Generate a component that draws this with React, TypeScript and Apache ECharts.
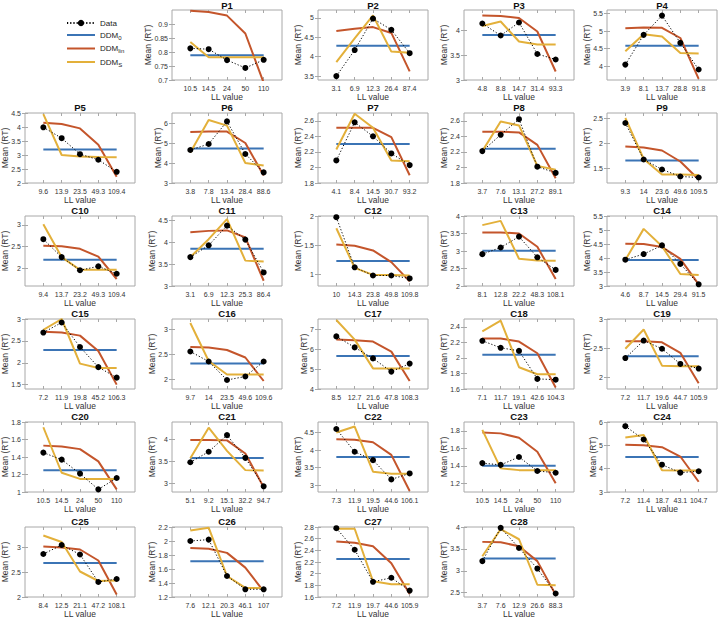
import React, { useEffect, useRef } from 'react';
import * as echarts from 'echarts';

// ---------------- data ----------------
const panelNames = [
  'P1', 'P2', 'P3', 'P4', 'P5', 'P6', 'P7', 'P8', 'P9',
  'C10', 'C11', 'C12', 'C13', 'C14', 'C15', 'C16', 'C17', 'C18', 'C19',
  'C20', 'C21', 'C22', 'C23', 'C24', 'C25', 'C26', 'C27', 'C28',
];

const xLabels = [
  ['10.5', '14.5', '24', '50', '110'],
  ['3.1', '6.9', '12.3', '26.4', '87.4'],
  ['4.8', '8.8', '14.7', '31.4', '93.3'],
  ['3.9', '8.1', '13.7', '28.8', '91.8'],
  ['9.6', '13.9', '23.5', '49.3', '109.4'],
  ['3.8', '7.8', '13.4', '28.4', '88.6'],
  ['4.1', '8.4', '14.5', '30.7', '93.2'],
  ['3.7', '7.6', '13.1', '27.2', '89.1'],
  ['9.3', '14', '23.6', '49.6', '109.5'],
  ['9.4', '13.7', '23.2', '49.3', '109.4'],
  ['3.1', '6.9', '12.3', '25.3', '86.4'],
  ['10', '14.3', '23.8', '49.8', '109.8'],
  ['8.1', '12.8', '22.2', '48.3', '108.1'],
  ['4.6', '8.7', '14.5', '29.4', '91.5'],
  ['7.2', '11.9', '19.8', '45.2', '106.3'],
  ['9.7', '14', '23.5', '49.6', '109.6'],
  ['8.5', '12.7', '21.6', '47.8', '108.3'],
  ['7.1', '11.7', '19.1', '42.6', '104.3'],
  ['7.2', '11.7', '19.6', '44.7', '105.9'],
  ['10.5', '14.5', '24', '50', '110'],
  ['5.1', '9.2', '15.1', '32.2', '94.7'],
  ['7.3', '11.9', '19.5', '44.6', '106.1'],
  ['10.5', '14.5', '24', '50', '110'],
  ['7.2', '11.4', '18.7', '43.1', '104.7'],
  ['8.4', '12.5', '21.1', '47.2', '108.1'],
  ['7.6', '12.1', '20.3', '46.1', '107'],
  ['7.2', '11.9', '19.7', '44.6', '105.9'],
  ['3.7', '7.6', '12.9', '26.6', '88.3'],
];

const yMins = [0.7, 3.4, 3, 3.6, 2, 3, 1.8, 1.8, 1.2, 1.6, 3, 0.8, 2, 3, 1.4, 1.8, 4, 1.6, 1.8, 1, 2.8, 2.8, 1.1, 3, 2, 1.2, 1.6, 2.4];
const yMaxs = [0.95, 5.2, 4.4, 5.6, 4.5, 6.5, 2.7, 2.7, 2.6, 3.2, 4.6, 2, 4, 5.5, 3, 3.2, 7.5, 2.5, 3, 1.8, 4.4, 4.8, 1.9, 6, 3.4, 2.2, 2.8, 4];

const yTicks = [
  [0.7, 0.75, 0.8, 0.85, 0.9],
  [3.5, 4, 4.5, 5],
  [3, 3.5, 4],
  [4, 4.5, 5, 5.5],
  [2, 2.5, 3, 3.5, 4, 4.5],
  [3, 4, 5, 6],
  [1.8, 2, 2.2, 2.4, 2.6],
  [1.8, 2, 2.2, 2.4, 2.6],
  [1.5, 2, 2.5],
  [2, 2.5, 3],
  [3, 3.5, 4, 4.5],
  [1, 1.5, 2],
  [2, 2.5, 3, 3.5, 4],
  [3, 3.5, 4, 4.5, 5, 5.5],
  [1.5, 2, 2.5, 3],
  [2, 2.5, 3],
  [4, 5, 6, 7],
  [1.6, 1.8, 2, 2.2, 2.4],
  [2, 2.5, 3],
  [1, 1.2, 1.4, 1.6, 1.8],
  [3, 3.5, 4],
  [3, 3.5, 4, 4.5],
  [1.2, 1.4, 1.6, 1.8],
  [3, 4, 5, 6],
  [2, 2.5, 3],
  [1.2, 1.4, 1.6, 1.8, 2, 2.2],
  [1.6, 1.8, 2, 2.2, 2.4, 2.6, 2.8],
  [2.5, 3, 3.5, 4],
];

const dataVals = [
  [0.813, 0.81, 0.771, 0.743, 0.772],
  [3.5, 4.17, 4.98, 4.69, 4.09],
  [4.13, 3.89, 4.15, 3.52, 3.41],
  [4.04, 4.89, 5.44, 4.66, 3.9],
  [3.99, 3.6, 3.03, 2.83, 2.4],
  [4.65, 4.95, 6.08, 4.45, 3.53],
  [2.09, 2.58, 2.4, 2.18, 2.03],
  [2.21, 2.42, 2.62, 2.01, 1.93],
  [2.4, 1.67, 1.47, 1.33, 1.31],
  [2.67, 2.26, 1.96, 2.05, 1.88],
  [3.66, 3.93, 4.38, 4.06, 3.31],
  [1.98, 1.12, 0.98, 0.98, 0.93],
  [2.91, 3.1, 3.41, 2.82, 2.46],
  [3.94, 4.14, 4.45, 3.79, 3.06],
  [2.69, 2.92, 2.36, 1.9, 1.66],
  [2.55, 2.35, 1.98, 2.05, 2.35],
  [6.63, 6.08, 5.53, 4.87, 5.27],
  [2.22, 2.13, 2.09, 1.73, 1.72],
  [2.33, 2.63, 2.49, 2.23, 2.15],
  [1.45, 1.37, 1.21, 1.03, 1.16],
  [3.48, 3.72, 4.1, 3.58, 2.93],
  [4.6, 3.95, 3.71, 3.16, 3.33],
  [1.43, 1.41, 1.5, 1.34, 1.32],
  [5.82, 5.25, 4.17, 3.83, 3.89],
  [2.86, 3.04, 2.85, 2.3, 2.36],
  [2.0, 2.02, 1.5, 1.31, 1.31],
  [2.78, 2.41, 1.86, 1.93, 1.71],
  [3.22, 3.98, 3.52, 3.05, 2.48],
];

const ddm0Vals = [0.788, 4.28, 3.9, 4.58, 3.2, 4.72, 2.3, 2.24, 1.65, 2.2, 3.85, 1.23, 3.01, 3.93, 2.29, 2.31, 5.65, 2.04, 2.36, 1.25, 3.58, 3.8, 1.4, 4.5, 2.68, 1.71, 2.25, 3.28];

const ddmLinVals = [
  [0.947, 0.943, 0.93, 0.866, 0.69],
  [4.66, 4.72, 4.76, 4.61, 3.62],
  [4.29, 4.28, 4.24, 3.97, 3.17],
  [5.08, 5.1, 5.09, 4.8, 3.63],
  [4.15, 4.11, 3.95, 3.37, 2.22],
  [5.55, 5.58, 5.57, 5.0, 3.37],
  [2.51, 2.51, 2.51, 2.39, 1.9],
  [2.46, 2.46, 2.45, 2.29, 1.86],
  [1.93, 1.91, 1.85, 1.63, 1.27],
  [2.52, 2.51, 2.45, 2.27, 1.76],
  [4.23, 4.26, 4.27, 4.11, 3.12],
  [1.51, 1.49, 1.41, 1.21, 0.88],
  [3.53, 3.53, 3.5, 3.12, 2.2],
  [4.51, 4.5, 4.39, 3.97, 3.06],
  [2.71, 2.69, 2.62, 2.27, 1.5],
  [2.64, 2.63, 2.58, 2.43, 1.96],
  [6.47, 6.44, 6.37, 5.87, 4.4],
  [2.25, 2.25, 2.21, 2.06, 1.62],
  [2.62, 2.62, 2.6, 2.42, 1.9],
  [1.53, 1.52, 1.49, 1.35, 1.03],
  [3.99, 3.99, 3.98, 3.68, 2.91],
  [4.31, 4.29, 4.22, 3.86, 2.83],
  [1.78, 1.77, 1.72, 1.56, 1.2],
  [5.02, 5.0, 4.92, 4.52, 3.44],
  [3.01, 2.99, 2.95, 2.73, 2.05],
  [1.9, 1.89, 1.83, 1.62, 1.28],
  [2.55, 2.53, 2.47, 2.18, 1.65],
  [3.66, 3.65, 3.56, 3.22, 2.45],
];

const ddmSVals = [
  [0.836, 0.781, 0.781, 0.781, 0.781],
  [3.86, 4.47, 5.06, 4.13, 4.1],
  [4.08, 4.17, 3.77, 3.71, 3.71],
  [4.42, 4.91, 4.84, 4.37, 4.36],
  [4.46, 3.0, 2.95, 2.93, 2.92],
  [4.53, 6.15, 5.87, 4.0, 3.88],
  [2.23, 2.69, 2.51, 2.09, 2.08],
  [2.21, 2.59, 2.54, 2.02, 1.97],
  [2.5, 1.68, 1.37, 1.37, 1.36],
  [3.01, 2.26, 1.97, 1.97, 1.97],
  [3.66, 4.07, 4.53, 3.58, 3.56],
  [1.79, 1.11, 0.99, 0.99, 0.98],
  [3.74, 3.86, 2.78, 2.73, 2.72],
  [3.93, 5.04, 4.42, 3.43, 3.39],
  [2.75, 3.0, 1.98, 1.88, 1.88],
  [3.12, 2.36, 2.09, 2.09, 2.09],
  [7.45, 6.47, 5.03, 5.03, 5.03],
  [2.34, 2.48, 1.88, 1.79, 1.79],
  [2.49, 2.82, 2.2, 2.19, 2.19],
  [1.74, 1.22, 1.15, 1.15, 1.15],
  [3.57, 4.27, 3.74, 3.3, 3.29],
  [4.5, 4.67, 3.38, 3.32, 3.32],
  [1.81, 1.37, 1.35, 1.35, 1.35],
  [5.34, 5.44, 3.93, 3.92, 3.92],
  [3.23, 3.1, 2.51, 2.32, 2.33],
  [2.15, 2.19, 1.5, 1.33, 1.33],
  [2.77, 2.77, 1.87, 1.82, 1.82],
  [3.33, 3.95, 3.72, 2.68, 2.67],
];

const seriesNames = ['Data', 'DDM0', 'DDMlin', 'DDMS'];

// ---------------- layout / style ----------------
const COL_LEFT = [25, 172, 318, 464, 607];
const ROW_TOP = [10, 113, 216, 319, 422, 527];
const W = 110;
const H = 70;
const FONT = '"Liberation Sans", Arial, Helvetica, sans-serif';
const TICK_FS = 7;
const NAME_FS = 8.5;
const BLUE = '#3b74b5';
const RED = '#c4552b';
const YELLOW = '#e3b03a';
const BOX = '#a8a8a8';
const TXT = '#333333';
const LINE_ICON = 'path://M0,0L28,0L28,2L0,2Z';
const XPOS = [1, 2, 3, 4, 5];

function labelWidth(s: string, fs: number) {
  let w = 0;
  for (const ch of s) w += ch === '.' ? 0.278 : 0.556;
  return w * fs;
}

function buildOption() {
  const grid: any[] = [];
  const xAxis: any[] = [];
  const yAxis: any[] = [];
  const series: any[] = [];
  const title: any[] = [];

  panelNames.forEach((name, i) => {
    const slot = i + 1;
    const row = Math.floor(slot / 5);
    const col = slot % 5;
    const left = COL_LEFT[col];
    const top = ROW_TOP[row];
    const labels = xLabels[i];
    const ticks = yTicks[i];
    const maxLabW = Math.max(...ticks.map((t) => labelWidth(String(t), TICK_FS)));

    grid.push({
      left, top, width: W, height: H,
      show: true, borderColor: BOX, borderWidth: 1, backgroundColor: '#fff',
      containLabel: false, outerBoundsMode: 'none',
    });

    title.push({
      text: name, left: left + W / 2, top: Math.max(0, top - 10.5), textAlign: 'center', padding: 0,
      textStyle: { fontSize: 9.5, fontWeight: 'bold', color: '#111', fontFamily: FONT, lineHeight: 10 },
    });

    const tickStyle = { lineStyle: { color: BOX, width: 1 } };
    xAxis.push({
      type: 'value', gridIndex: i, min: 0, max: 6, position: 'bottom',
      axisLine: { show: false },
      axisTick: { show: true, inside: true, length: 3, customValues: XPOS, ...tickStyle },
      axisLabel: {
        customValues: XPOS, margin: 5, fontSize: TICK_FS, color: TXT, fontFamily: FONT,
        hideOverlap: false, showMinLabel: true, showMaxLabel: true,
        formatter: (v: number) => labels[Math.round(v) - 1] || '',
      },
      splitLine: { show: false },
      name: 'LL value', nameLocation: 'middle', nameGap: 12.5, nameMoveOverlap: false,
      nameTextStyle: { fontSize: NAME_FS, color: TXT, fontFamily: FONT, lineHeight: 9 },
    });
    xAxis.push({
      type: 'value', gridIndex: i, min: 0, max: 6, position: 'top',
      axisLine: { show: false },
      axisTick: { show: true, inside: true, length: 3, customValues: XPOS, ...tickStyle },
      axisLabel: { show: false },
      splitLine: { show: false },
    });
    yAxis.push({
      type: 'value', gridIndex: i, min: yMins[i], max: yMaxs[i], position: 'left',
      axisLine: { show: false },
      axisTick: { show: true, inside: true, length: 3, customValues: ticks, ...tickStyle },
      axisLabel: {
        customValues: ticks, margin: 4, fontSize: TICK_FS, color: TXT, fontFamily: FONT,
        hideOverlap: false,
      },
      splitLine: { show: false },
      name: 'Mean (RT)', nameLocation: 'middle', nameGap: 4 + maxLabW + 2, nameRotate: 90,
      nameMoveOverlap: false,
      nameTextStyle: { fontSize: NAME_FS, color: TXT, fontFamily: FONT, lineHeight: 9 },
    });
    yAxis.push({
      type: 'value', gridIndex: i, min: yMins[i], max: yMaxs[i], position: 'right',
      axisLine: { show: false },
      axisTick: { show: true, inside: true, length: 3, customValues: ticks, ...tickStyle },
      axisLabel: { show: false },
      splitLine: { show: false },
    });

    const xi = 2 * i;
    const yi = 2 * i;
    const base = { type: 'line', xAxisIndex: xi, yAxisIndex: yi, silent: true, clip: true, animation: false };
    series.push({
      ...base, name: 'DDM0', symbol: 'none',
      data: XPOS.map((x) => [x, ddm0Vals[i]]),
      lineStyle: { color: BLUE, width: 2 }, itemStyle: { color: BLUE },
    });
    series.push({
      ...base, name: 'DDMlin', symbol: 'none',
      data: XPOS.map((x, k) => [x, ddmLinVals[i][k]]),
      lineStyle: { color: RED, width: 2 }, itemStyle: { color: RED },
    });
    series.push({
      ...base, name: 'DDMS', symbol: 'none',
      data: XPOS.map((x, k) => [x, ddmSVals[i][k]]),
      lineStyle: { color: YELLOW, width: 2 }, itemStyle: { color: YELLOW },
    });
    series.push({
      ...base, name: 'Data', symbol: 'circle', symbolSize: 6, showSymbol: true,
      data: XPOS.map((x, k) => [x, dataVals[i][k]]),
      lineStyle: { color: '#000', width: 1, type: [1.2, 2] }, itemStyle: { color: '#000' },
    });
  });

  const legendLabel: Record<string, string> = {
    Data: 'Data', DDM0: 'DDM{s|0}', DDMlin: 'DDM{s|lin}', DDMS: 'DDM{s|S}',
  };

  return {
    animation: false,
    backgroundColor: '#fff',
    title,
    grid,
    xAxis,
    yAxis,
    series,
    legend: {
      orient: 'vertical', left: 66, top: 19, itemWidth: 28, itemHeight: 8, itemGap: 4,
      selectedMode: false, padding: 0,
      data: [
        { name: seriesNames[0] },
        { name: seriesNames[1], icon: LINE_ICON, itemStyle: { color: BLUE, borderWidth: 0 } },
        { name: seriesNames[2], icon: LINE_ICON, itemStyle: { color: RED, borderWidth: 0 } },
        { name: seriesNames[3], icon: LINE_ICON, itemStyle: { color: YELLOW, borderWidth: 0 } },
      ],
      formatter: (n: string) => legendLabel[n] || n,
      textStyle: {
        fontSize: 8, color: '#222', fontFamily: FONT,
        rich: { s: { fontSize: 6, padding: [5, 0, 0, 0], fontFamily: FONT, color: '#222' } },
      },
    },
  };
}

export default function App() {
  const ref = useRef<HTMLDivElement>(null);
  useEffect(() => {
    if (!ref.current) return;
    const chart = echarts.init(ref.current, undefined, { renderer: 'svg' });
    chart.setOption(buildOption() as any);
    return () => chart.dispose();
  }, []);
  return (
    <div
      ref={ref}
      style={{ position: 'fixed', left: 0, top: 0, width: 723, height: 624, background: '#fff' }}
    />
  );
}
